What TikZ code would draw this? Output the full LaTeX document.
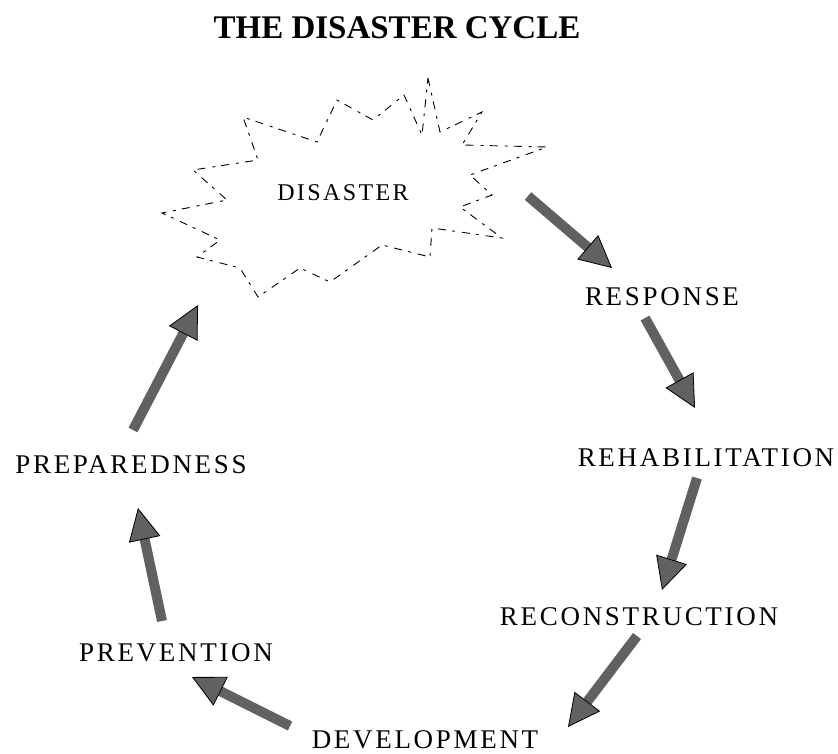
\documentclass[tikz,border=0pt]{standalone}
\usepackage{fontspec}
\setmainfont{Liberation Serif}
\newfontfamily\lblfont[LetterSpace=10]{Liberation Serif}
\usetikzlibrary{arrows.meta}
\tikzset{
  stage/.style={inner sep=0pt, font=\lblfont\fontsize{27}{27}\selectfont},
  heading/.style={inner sep=0pt, font=\bfseries\fontsize{33}{33}\selectfont},
  burst/.style={draw=black, line width=0.9pt,
    dash pattern=on 8pt off 7pt on 3pt off 6pt, line join=miter},
  fatarrow/.style={line width=10pt, draw=black!62,
    -{Triangle[length=32pt,width=32pt,color=black,fill=black!62,line width=0.8pt]}},
}
\begin{document}
\begin{tikzpicture}[x=1pt,y=-1pt]
\useasboundingbox (0,0) rectangle (838,754);

% title
\node[heading] (title) at (397,28) {THE DISASTER CYCLE};

% the disaster burst
\draw[burst] (428,78) -- (440,132) -- (482,112) -- (462,145) -- (547,147)
  -- (470,175) -- (492,195) -- (460,207) -- (502,238) -- (432,228)
  -- (430,257) -- (382,245) -- (330,282) -- (300,268) -- (258,297)
  -- (240,268) -- (197,257) -- (220,240) -- (162,213) -- (227,200)
  -- (193,170) -- (258,160) -- (243,117) -- (317,142) -- (337,100)
  -- (373,120) -- (404,95) -- (422,135) -- cycle;
\node[stage, font=\lblfont\fontsize{24}{24}\selectfont] (dis) at (343,193) {DISASTER};

% stages of the cycle
\node[stage] (resp)   at (662,297) {RESPONSE};
\node[stage] (rehab)  at (706,458) {REHABILITATION};
\node[stage] (recon)  at (639,617) {RECONSTRUCTION};
\node[stage] (devel)  at (425,740) {DEVELOPMENT};
\node[stage] (prev)   at (176,653) {PREVENTION};
\node[stage] (prep)   at (131,465) {PREPAREDNESS};

% arrow end points
\coordinate (dis-out)   at (528,196);
\coordinate (resp-in)   at (612,268);
\coordinate (resp-out)  at (645,318);
\coordinate (rehab-in)  at (695,408);
\coordinate (rehab-out) at (697,478);
\coordinate (recon-in)  at (662,590);
\coordinate (recon-out) at (637,636);
\coordinate (devel-in)  at (568,727);
\coordinate (devel-out) at (290,726);
\coordinate (prev-in)   at (192,677);
\coordinate (prev-out)  at (162,621);
\coordinate (prep-in)   at (138,508);
\coordinate (prep-out)  at (133,430);
\coordinate (dis-in)    at (198,305);

\draw[fatarrow] (dis-out)   -- (resp-in);
\draw[fatarrow] (resp-out)  -- (rehab-in);
\draw[fatarrow] (rehab-out) -- (recon-in);
\draw[fatarrow] (recon-out) -- (devel-in);
\draw[fatarrow] (devel-out) -- (prev-in);
\draw[fatarrow] (prev-out)  -- (prep-in);
\draw[fatarrow] (prep-out)  -- (dis-in);
\end{tikzpicture}
\end{document}
